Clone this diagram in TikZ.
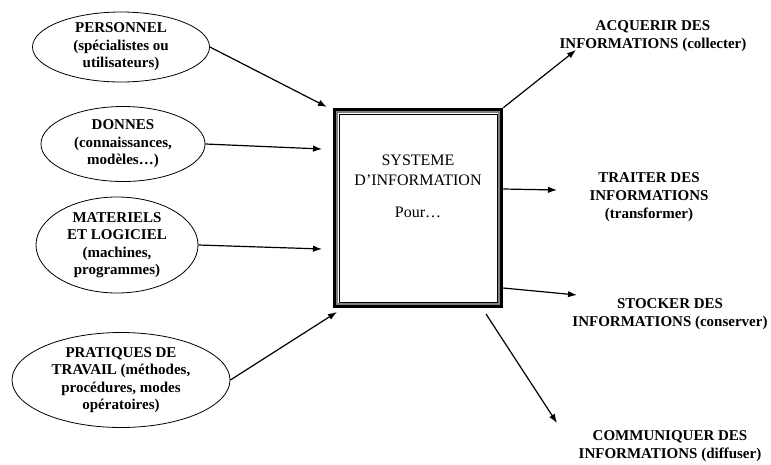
\documentclass[tikz,border=0pt]{standalone}
\usepackage{fontspec}
\setmainfont{Liberation Serif}
\usetikzlibrary{shapes.geometric,arrows.meta}
\begin{document}
\begin{tikzpicture}[x=1pt,y=-1pt,
  source/.style={ellipse,draw,line width=0.8pt,inner sep=0pt,align=center,
    font=\fontsize{15}{17.5}\selectfont\bfseries},
  goal/.style={align=center,inner sep=0pt,font=\fontsize{15}{18}\selectfont\bfseries},
  flow/.style={line width=1.2pt,-{Latex[length=9pt,width=6.5pt]}}]
\useasboundingbox (0,0) rectangle (771,464);

% inputs
\node[source,minimum width=177,minimum height=70] (pers) at (121,47)
  {PERSONNEL\\(spécialistes ou\\utilisateurs)};
\node[source,minimum width=164,minimum height=75] (donn) at (123,144)
  {DONNES\\(connaissances,\\modèles…)};
\node[source,minimum width=162,minimum height=96] (mat) at (117,245)
  {MATERIELS\\ET LOGICIEL\\(machines,\\programmes)};
\node[source,minimum width=218,minimum height=95] (prat) at (121,380)
  {PRATIQUES DE\\TRAVAIL (méthodes,\\procédures, modes\\opératoires)};

% central system box with its double frame
\node[draw,line width=3.5pt,minimum width=167,minimum height=197,inner sep=0pt] (sys) at (418,208) {};
\draw[gray,line width=1.2pt] ([shift={(4.2,4.2)}]sys.north west) rectangle ([shift={(-4.2,-4.2)}]sys.south east);
\draw[line width=0.7pt] ([shift={(6.3,6.3)}]sys.north west) rectangle ([shift={(-6.3,-6.3)}]sys.south east);
\node[align=center,font=\fontsize{16}{20}\selectfont] (systxt) at (418,170) {SYSTEME\\D’INFORMATION};
\node[font=\fontsize{16}{20}\selectfont] (pour) at (418,212) {Pour…};

% outputs
\node[goal] (acq) at (653,36) {ACQUERIR DES\\INFORMATIONS (collecter)};
\node[goal] (trait) at (649,197) {TRAITER DES\\INFORMATIONS\\(transformer)};
\node[goal] (stock) at (670,314) {STOCKER DES\\INFORMATIONS (conserver)};
\node[goal] (comm) at (670,446) {COMMUNIQUER DES\\INFORMATIONS (diffuser)};

% arrow tips
\coordinate (tpers) at (327,107);
\coordinate (tdonn) at (322,149);
\coordinate (tmat) at (322,249);
\coordinate (tprat) at (337,312);
\coordinate (tacq) at (576,50);
\coordinate (ttrait) at (557,190);
\coordinate (tstock) at (577,295);
\coordinate (scomm) at (486,314);
\coordinate (tcomm) at (557,423);

\draw[flow] (pers.east) -- (tpers);
\draw[flow] (donn.east) -- (tdonn);
\draw[flow] (mat.east) -- (tmat);
\draw[flow] (prat.east) -- (tprat);
\draw[flow] (sys.north east) -- (tacq);
\draw[flow] (sys.east |- 0,189) -- (ttrait);
\draw[flow] (sys.east |- 0,288) -- (tstock);
\draw[flow] (scomm) -- (tcomm);
\end{tikzpicture}
\end{document}
